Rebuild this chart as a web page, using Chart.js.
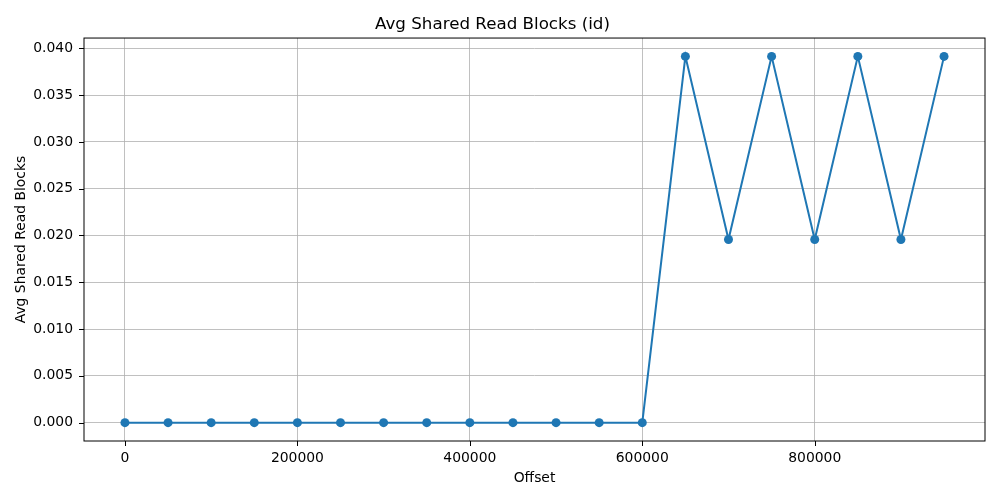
<!DOCTYPE html>
<html>
<head>
<meta charset="utf-8">
<script src="https://cdn.jsdelivr.net/npm/chart.js@4"></script>
<style>
  html, body { margin: 0; padding: 0; background: #fff; }
  #wrap { width: 1000px; height: 500px; }
</style>
</head>
<body>
<div id="wrap"><canvas id="chart" width="1000" height="500"></canvas></div>
<script>
// data
const offsets = [0, 50000, 100000, 150000, 200000, 250000, 300000, 350000, 400000, 450000,
                 500000, 550000, 600000, 650000, 700000, 750000, 800000, 850000, 900000, 950000];
const avgSharedReadBlocks = [0, 0, 0, 0, 0, 0, 0, 0, 0, 0,
                             0, 0, 0, 0.03914, 0.01957, 0.03914, 0.01957, 0.03914, 0.01957, 0.03914];
const xTicks = [0, 200000, 400000, 600000, 800000];
const yTicks = [0, 0.005, 0.01, 0.015, 0.02, 0.025, 0.03, 0.035, 0.04];

const FONT = 'DejaVu Sans';
const gridColor = '#b0b0b0';

document.addEventListener('DOMContentLoaded', () => {
    const ctx = document.getElementById('chart').getContext('2d');

    // black frame and outward tick marks, matplotlib style
    const frame = {
        id: 'frame',
        afterDatasetsDraw(chart) {
            const a = chart.chartArea;
            const c = chart.ctx;
            const xs = chart.scales.x;
            const ys = chart.scales.y;
            c.save();
            c.strokeStyle = '#000';
            c.lineWidth = 1;
            c.beginPath();
            xTicks.forEach(v => {
                const px = Math.round(xs.getPixelForValue(v)) + 0.5;
                c.moveTo(px, a.bottom);
                c.lineTo(px, a.bottom + 5);
            });
            yTicks.forEach(v => {
                const py = Math.round(ys.getPixelForValue(v)) + 0.5;
                c.moveTo(a.left, py);
                c.lineTo(a.left - 5, py);
            });
            c.stroke();
            c.strokeRect(a.left, a.top, a.right - a.left, a.bottom - a.top);
            c.restore();
        }
    };

    new Chart(ctx, {
        type: 'line',
        data: {
            datasets: [{
                label: 'Avg Shared Read Blocks',
                data: offsets.map((x, i) => ({ x: x, y: avgSharedReadBlocks[i] })),
                borderColor: '#1f77b4',
                backgroundColor: '#1f77b4',
                borderWidth: 2,
                pointRadius: 4.5,
                pointHoverRadius: 4.5,
                pointBorderWidth: 0,
                fill: false,
                tension: 0
            }]
        },
        plugins: [frame],
        options: {
            responsive: false,
            animation: false,
            layout: { padding: { left: 0, right: 15, top: 0, bottom: 0 } },
            plugins: {
                legend: { display: false },
                tooltip: { enabled: false },
                title: {
                    display: true,
                    text: 'Avg Shared Read Blocks (id)',
                    color: '#000',
                    font: { family: FONT, size: 16.7, weight: 'normal', lineHeight: 1.2 },
                    padding: { top: 15, bottom: 3 }
                }
            },
            scales: {
                x: {
                    type: 'linear',
                    min: -47500,
                    max: 997500,
                    afterBuildTicks(scale) {
                        scale.ticks = xTicks.map(v => ({ value: v }));
                    },
                    afterFit(scale) { scale.height = 59; },
                    ticks: {
                        color: '#000',
                        font: { family: FONT, size: 13.9 },
                        maxRotation: 0,
                        padding: 9,
                        callback: v => String(v)
                    },
                    grid: { color: gridColor, lineWidth: 0.8, drawTicks: false },
                    border: { display: false },
                    title: {
                        display: true,
                        text: 'Offset',
                        color: '#000',
                        font: { family: FONT, size: 13.9 },
                        padding: { top: 4, bottom: 13 }
                    }
                },
                y: {
                    type: 'linear',
                    min: -0.00196,
                    max: 0.0411,
                    afterBuildTicks(scale) {
                        scale.ticks = yTicks.map(v => ({ value: v }));
                    },
                    afterFit(scale) { scale.width = 84; },
                    ticks: {
                        color: '#000',
                        font: { family: FONT, size: 13.9 },
                        padding: 11,
                        callback: v => v.toFixed(3)
                    },
                    grid: { color: gridColor, lineWidth: 0.8, drawTicks: false },
                    border: { display: false },
                    title: {
                        display: true,
                        text: 'Avg Shared Read Blocks',
                        color: '#000',
                        font: { family: FONT, size: 13.9 },
                        padding: { top: 13, bottom: 4 }
                    }
                }
            }
        }
    });
});
</script>
</body>
</html>
